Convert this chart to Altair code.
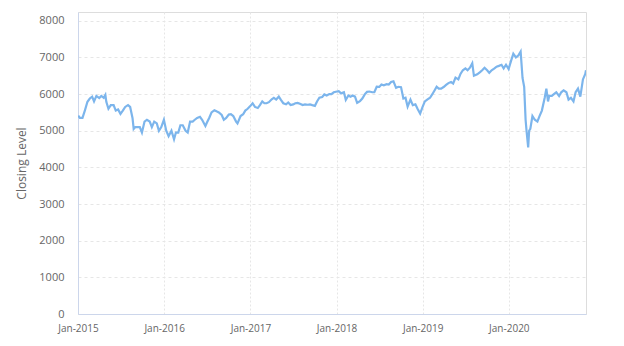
import altair as alt
import pandas as pd

dates_2015 = ["2015-01-02","2015-01-09","2015-01-20","2015-01-30","2015-02-10","2015-02-20","2015-03-02","2015-03-10","2015-03-20",
              "2015-04-01","2015-04-10","2015-04-20","2015-04-27","2015-05-01","2015-05-10","2015-05-20","2015-06-01","2015-06-10",
              "2015-06-20","2015-06-30","2015-07-10","2015-07-20","2015-08-01","2015-08-10","2015-08-20","2015-08-25","2015-09-01",
              "2015-09-10","2015-09-20","2015-09-29","2015-10-10","2015-10-20","2015-11-01","2015-11-10","2015-11-20","2015-12-01",
              "2015-12-10","2015-12-20","2015-12-31"]
vals_2015 = [5411,5350,5350,5551,5790,5880,5930,5800,5950,
             5890,5950,5900,5980,5790,5600,5700,5700,5550,
             5580,5460,5550,5650,5700,5650,5350,5050,5100,
             5100,5100,4950,5250,5300,5250,5100,5250,5200,
             5000,5100,5300]

dates_2016 = ["2016-01-10","2016-01-20","2016-02-01","2016-02-12","2016-02-20","2016-03-01","2016-03-10","2016-03-20","2016-04-01",
              "2016-04-10","2016-04-20","2016-05-01","2016-05-10","2016-05-20","2016-06-01","2016-06-10","2016-06-24","2016-07-01",
              "2016-07-10","2016-07-20","2016-08-01","2016-08-10","2016-08-20","2016-09-01","2016-09-10","2016-09-20","2016-10-01",
              "2016-10-10","2016-10-20","2016-11-01","2016-11-07","2016-11-20","2016-12-01","2016-12-10","2016-12-20","2016-12-30"]
vals_2016 = [5000,4850,5000,4765,4950,4950,5150,5150,5000,
             4950,5250,5250,5300,5350,5380,5300,5130,5230,
             5350,5500,5560,5530,5500,5430,5300,5350,5440,
             5450,5400,5250,5200,5400,5450,5550,5600,5665]

dates_2017 = ["2017-01-10","2017-01-20","2017-02-01","2017-02-10","2017-02-20","2017-03-01","2017-03-10","2017-03-20","2017-04-01",
              "2017-04-10","2017-04-20","2017-05-01","2017-05-10","2017-05-20","2017-06-01","2017-06-10","2017-06-20","2017-07-01",
              "2017-07-10","2017-07-20","2017-08-01","2017-08-10","2017-08-20","2017-09-01","2017-09-10","2017-09-20","2017-10-01",
              "2017-10-10","2017-10-20","2017-11-01","2017-11-10","2017-11-20","2017-12-01","2017-12-10","2017-12-20","2017-12-29"]
vals_2017 = [5750,5650,5620,5700,5800,5750,5750,5780,5860,
             5900,5850,5930,5840,5750,5720,5770,5700,5720,
             5750,5760,5730,5700,5720,5710,5720,5700,5680,
             5800,5900,5920,5990,5960,6000,6000,6050,6065]

dates_2018 = ["2018-01-10","2018-01-20","2018-02-01","2018-02-09","2018-02-20","2018-03-01","2018-03-10","2018-03-20","2018-03-29",
              "2018-04-10","2018-04-20","2018-05-01","2018-05-10","2018-05-20","2018-06-01","2018-06-10","2018-06-20","2018-07-01",
              "2018-07-10","2018-07-20","2018-08-01","2018-08-10","2018-08-20","2018-08-30","2018-09-10","2018-09-20","2018-10-01",
              "2018-10-11","2018-10-20","2018-10-29","2018-11-10","2018-11-20","2018-12-01","2018-12-10","2018-12-21","2018-12-31"]
vals_2018 = [6080,6020,6050,5840,5960,5930,5960,5930,5760,
             5810,5880,6000,6060,6070,6050,6050,6200,6195,
             6260,6240,6270,6260,6330,6350,6170,6200,6190,
             5880,5900,5660,5850,5700,5720,5600,5470,5646]

dates_2019 = ["2019-01-10","2019-01-20","2019-02-01","2019-02-10","2019-02-20","2019-03-01","2019-03-10","2019-03-20","2019-04-01",
              "2019-04-10","2019-04-20","2019-05-01","2019-05-10","2019-05-20","2019-06-01","2019-06-10","2019-06-20","2019-07-01",
              "2019-07-10","2019-07-20","2019-07-30","2019-08-06","2019-08-20","2019-09-01","2019-09-10","2019-09-20","2019-10-01",
              "2019-10-10","2019-10-20","2019-11-01","2019-11-10","2019-11-20","2019-12-01","2019-12-10","2019-12-20","2019-12-31"]
vals_2019 = [5800,5850,5900,5990,6100,6200,6150,6150,6200,
             6250,6300,6330,6290,6450,6400,6550,6650,6700,
             6650,6720,6840,6500,6540,6600,6650,6720,6650,
             6580,6650,6700,6750,6770,6800,6700,6800,6684]

dates_2020 = ["2020-01-10","2020-01-20","2020-01-31","2020-02-10","2020-02-20","2020-02-28","2020-03-06","2020-03-12","2020-03-16",
              "2020-03-23","2020-03-27","2020-04-01","2020-04-10","2020-04-20","2020-05-01","2020-05-10","2020-05-20","2020-06-01",
              "2020-06-08","2020-06-15","2020-06-20","2020-07-01","2020-07-10","2020-07-20","2020-08-01","2020-08-10","2020-08-20",
              "2020-09-01","2020-09-10","2020-09-20","2020-10-01","2020-10-10","2020-10-20","2020-10-30","2020-11-10","2020-11-20",
              "2020-11-23"]
vals_2020 = [6900,7100,7000,7050,7160,6440,6200,5300,5000,
             4546,5000,5050,5400,5300,5250,5400,5550,5900,
             6150,5800,5950,5950,6000,6050,5950,6050,6100,
             6050,5850,5900,5800,6050,6150,5930,6400,6550,
             6650]

y_ticks = [0, 1000, 2000, 3000, 4000, 5000, 6000, 7000, 8000]
x_tick_years = [2015, 2016, 2017, 2018, 2019, 2020]

dates = dates_2015 + dates_2016 + dates_2017 + dates_2018 + dates_2019 + dates_2020
vals = vals_2015 + vals_2016 + vals_2017 + vals_2018 + vals_2019 + vals_2020
df = pd.DataFrame({"date": dates, "close": vals})

chart = alt.Chart(df).mark_line(color="#7cb5ec", strokeWidth=2.2, clip=True).encode(
    x=alt.X("date:T",
            scale=alt.Scale(domain=[alt.DateTime(year=2015, month=1, date=1),
                                    alt.DateTime(year=2020, month=11, date=23)], nice=False),
            axis=alt.Axis(values=[alt.DateTime(year=y, month=1, date=1) for y in x_tick_years],
                          format="%b-%Y", title=None, ticks=False, labelPadding=9,
                          labelFontSize=10, labelColor="#666666", labelFont="Open Sans",
                          domainColor="#ccd6eb", gridColor="#e6e6e6", gridDash=[2, 2],
                          labelFlush=False)),
    y=alt.Y("close:Q",
            scale=alt.Scale(domain=[0, 8240], nice=False, zero=True),
            axis=alt.Axis(values=y_ticks, format="d", title="Closing Level", ticks=False, labelPadding=14,
                          labelFontSize=11, labelColor="#666666", labelFont="Open Sans",
                          titleFontSize=12, titleColor="#666666", titleFont="Open Sans",
                          titleFontWeight="normal", titlePadding=10,
                          domainColor="#ccd6eb", gridColor="#e6e6e6", gridDash=[3, 3])),
).properties(
    width=508, height=302,
    autosize=alt.AutoSizeParams(type="none"),
    padding={"left": 78, "top": 12, "right": 38, "bottom": 32},
).configure_view(stroke="#d9d9d9", strokeWidth=1).configure(background="white")

chart.save("out.html", embed_options={"renderer": "svg", "actions": False})
